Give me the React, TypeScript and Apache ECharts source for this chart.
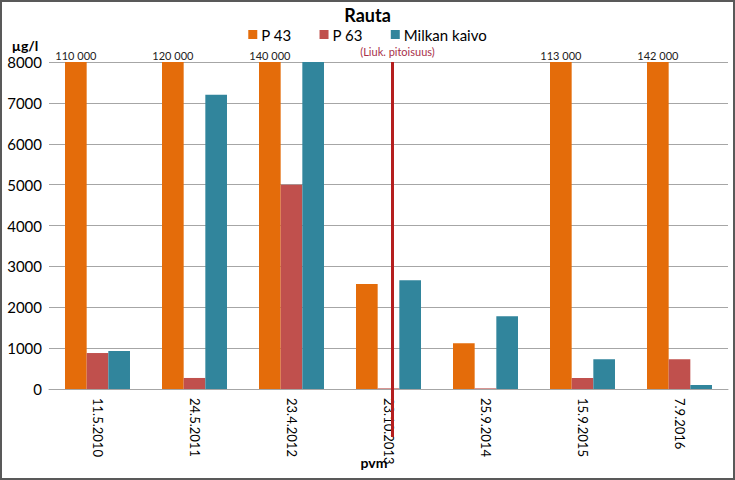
import React, { useEffect, useRef } from "react";
import * as echarts from "echarts";

const categories = ["11.5.2010", "24.5.2011", "23.4.2012", "23.10.2013", "25.9.2014", "15.9.2015", "7.9.2016"];
const seriesNames = ["P 43", "P 63", "Milkan kaivo"];
const p43 = [110000, 120000, 140000, 2570, 1120, 113000, 142000];
const p63 = [880, 270, 5000, 15, 15, 270, 730];
const milkan = [930, 7200, 8000, 2660, 1780, 730, 100];
const colors = ["#e46c0a", "#c0504d", "#31859c"];
const yMin = 0;
const yMax = 8000;
const yInterval = 1000;
const limitCategory = "23.10.2013";
const limitLabel = "(Liuk. pitoisuus)";
const yUnit = "µg/l";
const xName = "pvm";
const titleText = "Rauta";

const FONT = "Lato, 'Liberation Sans', sans-serif";

const fmt = (v: number) => String(v).replace(/\B(?=(\d{3})+(?!\d))/g, " ");

const toData = (arr: number[]) =>
  arr.map((v) =>
    v > yMax
      ? {
          value: yMax,
          label: {
            show: true,
            position: "top",
            distance: 1,
            formatter: fmt(v),
            fontSize: 11,
            color: "#222",
            fontFamily: FONT,
          },
        }
      : { value: v }
  );

export default function App() {
  const ref = useRef<HTMLDivElement>(null);
  useEffect(() => {
    document.body.style.margin = "0";
    const chart = echarts.init(ref.current!, null, { renderer: "svg" });
    const option: any = {
      animation: false,
      backgroundColor: "#fff",
      textStyle: { fontFamily: FONT },
      title: {
        text: titleText,
        left: "center",
        top: 6,
        padding: 0,
        textStyle: { fontSize: 18, fontWeight: "bold", color: "#000", fontFamily: FONT },
      },
      legend: {
        data: seriesNames,
        top: 27,
        left: "center",
        icon: "rect",
        itemWidth: 9,
        itemHeight: 9,
        itemGap: 28,
        padding: 0,
        textStyle: { fontSize: 15, color: "#000", fontFamily: FONT, padding: [0, 0, 0, -1] },
      },
      grid: { left: 49, right: 7, top: 62, bottom: 91, containLabel: false },
      xAxis: {
        type: "category",
        data: categories,
        axisLine: { show: true, lineStyle: { color: "#a6a6a6", width: 1 } },
        axisTick: { show: false },
        axisLabel: { rotate: -90, margin: 9, fontSize: 13, color: "#000", fontFamily: FONT, interval: 0 },
      },
      yAxis: {
        type: "value",
        min: yMin,
        max: yMax,
        interval: yInterval,
        axisLine: { show: false },
        axisTick: { show: false },
        splitLine: { lineStyle: { color: "#a6a6a6", width: 1 } },
        axisLabel: { fontSize: 15, color: "#000", fontFamily: FONT, margin: 7, formatter: (v: number) => String(v) },
      },
      series: [
        { name: seriesNames[0], type: "bar", data: toData(p43), itemStyle: { color: colors[0] }, barGap: "0%", barCategoryGap: "33%" },
        { name: seriesNames[1], type: "bar", data: toData(p63), itemStyle: { color: colors[1] }, barGap: "0%", barCategoryGap: "33%" },
        { name: seriesNames[2], type: "bar", data: toData(milkan), itemStyle: { color: colors[2] }, barGap: "0%", barCategoryGap: "33%" },
      ],
    };
    chart.setOption(option);
    const lx = (chart.convertToPixel({ xAxisIndex: 0 }, limitCategory) as number) + 4;
    const yTop = chart.convertToPixel({ yAxisIndex: 0 }, yMax) as number;
    const y0 = chart.convertToPixel({ yAxisIndex: 0 }, yMin) as number;
    chart.setOption({
      graphic: [
        {
          type: "rect",
          shape: { x: 1, y: 1, width: 733, height: 478 },
          style: { fill: "none", stroke: "#595959", lineWidth: 2 },
          silent: true,
          z: 100,
        },
        {
          type: "line",
          shape: { x1: lx, y1: yTop, x2: lx, y2: y0 + 48 },
          style: { stroke: "#b41e1e", lineWidth: 3 },
          z: 50,
        },
        {
          type: "text",
          x: lx + 5,
          y: yTop - 11,
          style: { text: limitLabel, fill: "#a8304a", fontSize: 11, fontFamily: FONT, align: "center", verticalAlign: "middle" },
        },
        {
          type: "text",
          x: 25,
          y: 45,
          style: { text: yUnit, fill: "#000", fontSize: 14, fontWeight: "bold", fontFamily: FONT, align: "center", verticalAlign: "middle" },
        },
        {
          type: "text",
          x: 374,
          y: 462,
          style: { text: xName, fill: "#000", fontSize: 14, fontWeight: "bold", fontFamily: FONT, align: "center", verticalAlign: "middle" },
        },
      ],
    });
    return () => chart.dispose();
  }, []);
  return <div ref={ref} style={{ width: 735, height: 480 }} />;
}
